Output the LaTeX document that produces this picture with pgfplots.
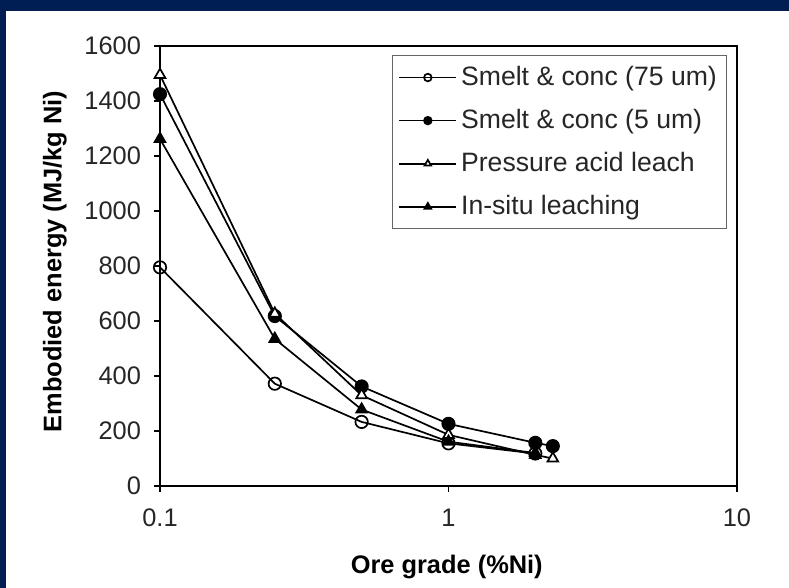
\documentclass[border=0pt]{standalone}
\usepackage{pgfplots}
\pgfplotsset{compat=1.18}
\usepackage{fontspec}
\setmainfont{Liberation Sans}
\definecolor{navyframe}{RGB}{0,30,82}
\begin{document}
\begin{tikzpicture}[x=1pt,y=1pt]
\fill[navyframe] (0,0) rectangle (394.5,294);
\fill[white] (3,0) rectangle (394.5,288.5);
\begin{axis}[
  at={(80pt,51pt)}, anchor=south west, scale only axis,
  width=288.5pt, height=220pt,
  xmode=log, xmin=0.1, xmax=10, ymin=0, ymax=1600,
  xtick={0.1,1,10}, xticklabels={0.1,1,10}, xminorticks=false,
  ytick={0,200,...,1600},
  xtick pos=bottom, ytick pos=left, tick align=outside, major tick length=3pt,
  axis line style={line width=0.9pt},
  every tick/.style={black, line width=0.6pt},
  font=\fontsize{12.7}{15}\selectfont,
  /pgf/number format/assume math mode=true,
  ticklabel style={text=black!85},
  yticklabel style={/pgf/number format/1000 sep={}, xshift=-3pt},
  xticklabel style={yshift=-5pt},
  xlabel={\bfseries Ore grade (\%Ni)},
  ylabel={\bfseries Embodied energy (MJ/kg Ni)},
  xlabel style={at={(axis description cs:0.497,-0.184)}, anchor=center},
  ylabel style={at={(axis description cs:-0.182,0.51)}, anchor=center},
  legend style={at={(axis description cs:0.402,0.98)}, anchor=north west,
    draw=black!60, line width=0.6pt, row sep=6.4pt, inner xsep=3pt, inner ysep=3.5pt,
    font=\fontsize{13.3}{15}\selectfont, text=black!85, cells={anchor=west}},
  legend image code/.code={\draw[mark repeat=2,mark phase=2,#1,mark size=1.9pt]
    plot coordinates {(0cm,0cm) (0.5cm,0cm) (1cm,0cm)};},
  every axis plot/.append style={black, line width=0.85pt, mark size=3.1pt,
    mark options={solid, line width=0.6pt}},
]
\addplot[mark=o, mark options={fill=white}] coordinates {
  (0.1,795) (0.25,372) (0.5,233) (1,155) (2,118)};
\addlegendentry{Smelt \& conc (75 um)}
\addplot[mark=*, mark options={fill=black}] coordinates {
  (0.1,1425) (0.25,618) (0.5,362) (1,226) (2,157) (2.3,145)};
\addlegendentry{Smelt \& conc (5 um)}
\addplot[mark=triangle*, mark options={fill=white}] coordinates {
  (0.1,1495) (0.25,627) (0.5,330) (1,186) (2,113) (2.3,100)};
\addlegendentry{Pressure acid leach}
\addplot[mark=triangle*, mark options={fill=black}] coordinates {
  (0.1,1262) (0.25,535) (0.5,278) (1,161) (2,120)};
\addlegendentry{In-situ leaching}
\end{axis}
\pgfresetboundingbox
\useasboundingbox (0,0) rectangle (394.5,294);
\end{tikzpicture}
\end{document}
